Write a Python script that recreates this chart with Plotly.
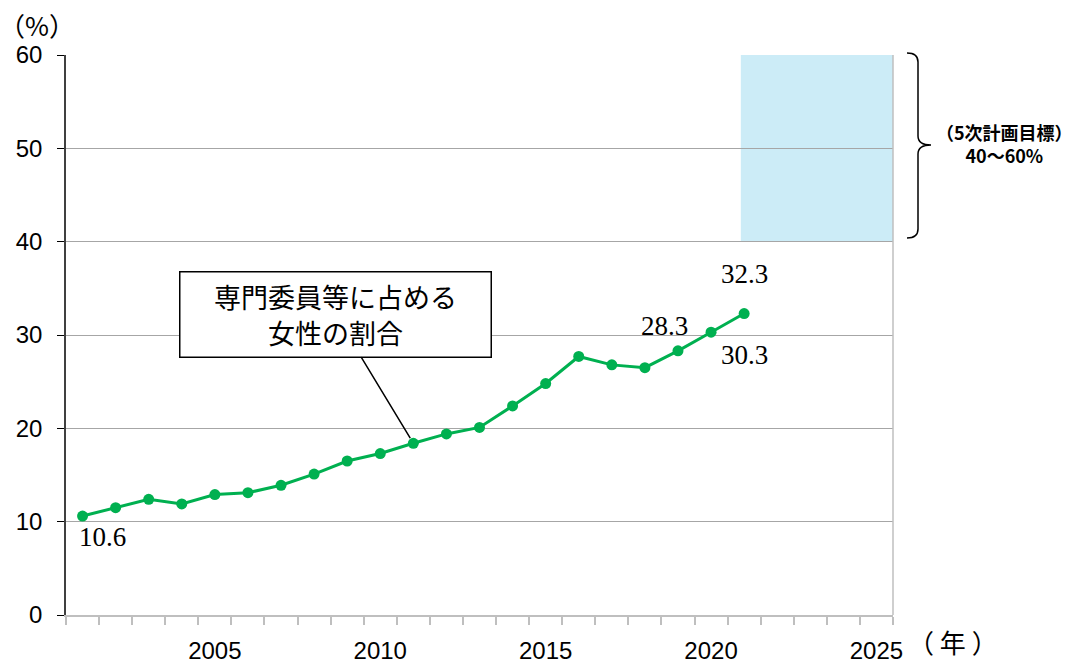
import plotly.graph_objects as go

years = list(range(2001, 2022))
values = [10.6, 11.5, 12.4, 11.9, 12.9, 13.1, 13.9, 15.1, 16.5, 17.3, 18.4,
          19.4, 20.1, 22.4, 24.8, 27.7, 26.8, 26.5, 28.3, 30.3, 32.3]
x_ticks = [2005, 2010, 2015, 2020, 2025]
y_ticks = [0, 10, 20, 30, 40, 50, 60]
target_low, target_high = 40, 60
target_start = 2020.9

# labelled points: (year, dx, dy)
labelled = [(2001, 20, -21), (2019, -13, 25), (2020, 33, -23), (2021, 0, 40)]

OFF = 8  # page body margin
W, H = 1075 - OFF, 661 - OFF
PX0, PY0, PX1, PY1 = 66, 55, 893, 615   # plot area in screen pixels
ML, MT = PX0 - OFF, PY0 - OFF
PW, PH = PX1 - PX0, PY1 - PY0
MR, MB = W - ML - PW, H - MT - PH

def px2paper(px, py):
    return (px - PX0) / PW, (PY1 - py) / PH

fig = go.Figure()
fig.add_trace(go.Scatter(
    x=years, y=values, mode="lines+markers",
    line=dict(color="#00B050", width=3),
    marker=dict(color="#00B050", size=11),
    hoverinfo="skip", showlegend=False,
))

serif = "Liberation Serif, Times New Roman, serif"
sans = "Liberation Sans, Arial, sans-serif"
cjk = "Noto Sans CJK JP, sans-serif"

annotations = []
for yr, dx, dy in labelled:
    v = values[years.index(yr)]
    annotations.append(dict(x=yr, y=v, xref="x", yref="y", text=f"{v:.1f}",
                            showarrow=False, xshift=dx, yshift=dy,
                            font=dict(family=serif, size=27, color="#000")))

# callout box
annotations.append(dict(
    x=2011, y=values[years.index(2011)], xref="x", yref="y",
    text="専門委員等に占める<br>女性の割合", showarrow=True,
    arrowhead=0, arrowwidth=1.5, arrowcolor="#000", ax=-78, ay=-129,
    standoff=6, width=308, height=82, bgcolor="#fff",
    bordercolor="#000", borderwidth=1.5, borderpad=1,
    font=dict(family=cjk, size=27, color="#000"), align="center"))

ax_, ay_ = px2paper(37, 25)
annotations.append(dict(x=ax_, y=ay_, xref="paper", yref="paper", text="（%）",
                        showarrow=False, xanchor="center", yanchor="middle",
                        font=dict(family=cjk, size=26, color="#000")))
ax_, ay_ = px2paper(953, 641)
annotations.append(dict(x=ax_, y=ay_, xref="paper", yref="paper", text="（ 年 ）",
                        showarrow=False, xanchor="center", yanchor="middle",
                        font=dict(family=cjk, size=26, color="#000")))
ax_, ay_ = px2paper(1004, 143)
annotations.append(dict(x=ax_, y=ay_, xref="paper", yref="paper",
                        text="<b>（5次計画目標）</b><br><b>40～60%</b>",
                        showarrow=False, xanchor="center", yanchor="middle",
                        font=dict(family=cjk, size=18, color="#000")))

shapes = [
    dict(type="rect", xref="x", yref="y", x0=target_start, x1=2025.5,
         y0=target_low, y1=target_high, fillcolor="#CCECF7",
         line=dict(width=0), layer="below"),
    dict(type="line", xref="paper", yref="paper", x0=1, x1=1, y0=0, y1=1,
         line=dict(color="#BFBFBF", width=1.5)),
]

# brace
pts = [(907, 53), (918, 53), (918, 62), (918, 136), (918, 145), (931, 145),
       (918, 145), (918, 154), (918, 229), (918, 238), (907, 238)]
P = [px2paper(*p) for p in pts]
path = (f"M {P[0][0]},{P[0][1]} Q {P[1][0]},{P[1][1]} {P[2][0]},{P[2][1]} "
        f"L {P[3][0]},{P[3][1]} Q {P[4][0]},{P[4][1]} {P[5][0]},{P[5][1]} "
        f"Q {P[6][0]},{P[6][1]} {P[7][0]},{P[7][1]} L {P[8][0]},{P[8][1]} "
        f"Q {P[9][0]},{P[9][1]} {P[10][0]},{P[10][1]}")
shapes.append(dict(type="path", xref="paper", yref="paper", path=path,
                   line=dict(color="#000", width=1.5)))

fig.update_layout(
    width=W, height=H, margin=dict(l=ML, r=MR, t=MT, b=MB, autoexpand=False),
    paper_bgcolor="#fff", plot_bgcolor="#fff",
    annotations=annotations, shapes=shapes,
    xaxis=dict(range=[2000.5, 2025.5], tickvals=x_ticks,
               ticktext=[str(t) for t in x_ticks], ticks="", showgrid=False,
               showline=True, linecolor="#BFBFBF", linewidth=1.5,
               zeroline=False, ticklabelstandoff=13,
               tickfont=dict(family=sans, size=24, color="#000")),
    yaxis=dict(range=[0, 60], tickvals=y_ticks, ticks="outside", ticklen=7,
               tickcolor="#000", tickwidth=1.2, showline=True, linecolor="#404040",
               linewidth=1.5, showgrid=True, gridcolor="#A6A6A6", gridwidth=1,
               zeroline=False, ticklabelstandoff=10,
               tickfont=dict(family=sans, size=24, color="#000")),
)
fig.update_xaxes(minor=dict(ticks="outside", tick0=2000.5, dtick=1, ticklen=8,
                            tickcolor="#BFBFBF", tickwidth=1.5, showgrid=False))

fig.write_html("out.html")
